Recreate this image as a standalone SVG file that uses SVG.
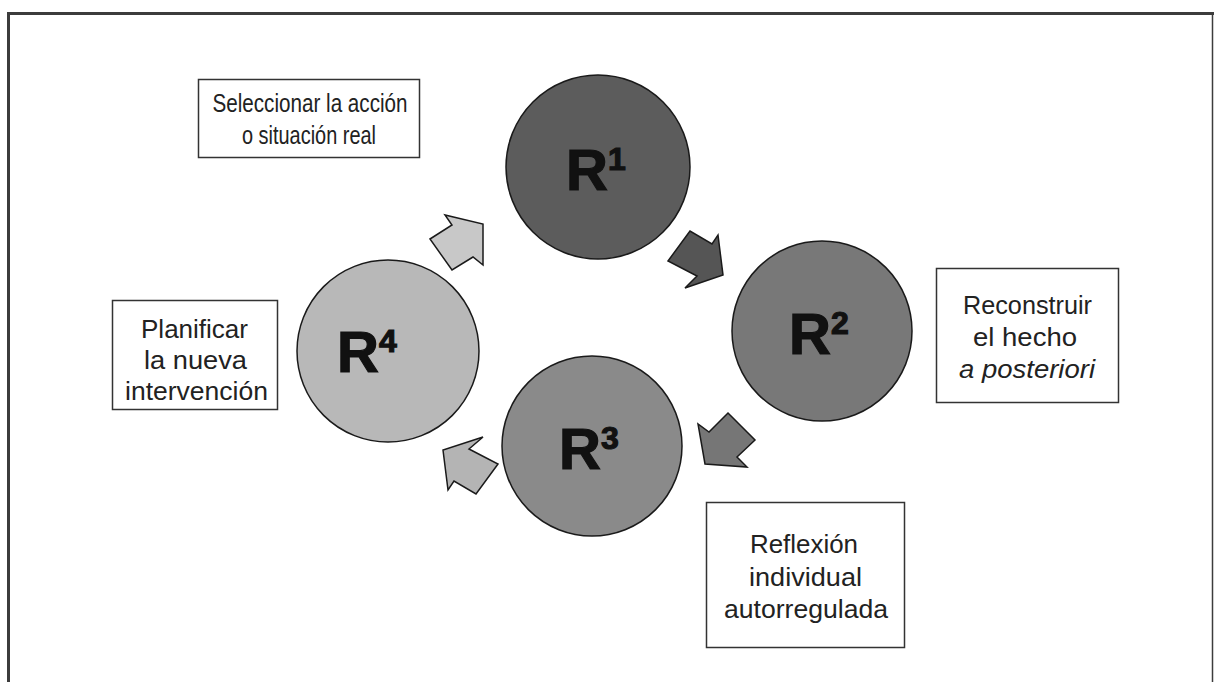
<svg xmlns="http://www.w3.org/2000/svg" width="1214" height="682" viewBox="0 0 1214 682">
  <style>
    .box { fill: #ffffff; stroke: #333333; stroke-width: 1.5; }
    .lbl { font-family: "Liberation Sans", "DejaVu Sans", sans-serif; font-size: 25px; fill: #222222; text-anchor: middle; }
    .circ { stroke: #1a1a1a; stroke-width: 1.5; }
    .rtxt { font-family: "Liberation Sans", "DejaVu Sans", sans-serif; font-weight: bold; font-size: 58px; fill: #111111; stroke: #111111; stroke-width: 1.2; }
    .sup { font-size: 32px; }
    .arr { stroke: #1a1a1a; stroke-width: 1.5; stroke-linejoin: miter; }
  </style>
  <rect width="1214" height="682" fill="#ffffff"/>
  <!-- page frame -->
  <g id="frame" fill="none" stroke="#3c3c3c">
    <path d="M8.5 682 V13.5 H1214" stroke-width="3"/>
    <path d="M1212.5 13 V682" stroke-width="1.5"/>
  </g>

  <!-- cycle arrows -->
  <g id="connectors">
    <polygon class="arr" fill="#c8c8c8" points="430,239 452,225 445,215 483,224 483,265 473,257 452,270"/>
    <polygon class="arr" fill="#555555" points="668,261 690,231 712,244 718,235 723,275 685,288 697,276"/>
    <polygon class="arr" fill="#767676" points="728,413 755,440 737,457 747,467 705,464 698,424 709,432"/>
    <polygon class="arr" fill="#b4b4b4" points="498,464 476,494 454,481 448,490 443,450 483,437 469,449"/>
  </g>

  <!-- stage R1 -->
  <g id="r1">
    <circle class="circ" cx="598" cy="167" r="92" fill="#5c5c5c"/>
    <text class="rtxt" x="566" y="190">R<tspan class="sup" dy="-20">1</tspan></text>
  </g>
  <!-- stage R2 -->
  <g id="r2">
    <circle class="circ" cx="822" cy="331" r="90" fill="#787878"/>
    <text class="rtxt" x="789" y="354">R<tspan class="sup" dy="-20">2</tspan></text>
  </g>
  <!-- stage R3 -->
  <g id="r3">
    <circle class="circ" cx="592" cy="446" r="90" fill="#8a8a8a"/>
    <text class="rtxt" x="559" y="469">R<tspan class="sup" dy="-20">3</tspan></text>
  </g>
  <!-- stage R4 -->
  <g id="r4">
    <circle class="circ" cx="388" cy="351" r="91" fill="#b8b8b8"/>
    <text class="rtxt" x="337" y="372">R<tspan class="sup" dy="-20">4</tspan></text>
  </g>

  <!-- caption boxes -->
  <g id="box-r1">
    <rect class="box" x="198.5" y="79.5" width="221" height="78"/>
    <text class="lbl" x="310" y="112" textLength="195" lengthAdjust="spacingAndGlyphs">Seleccionar la acción</text>
    <text class="lbl" x="309" y="144" textLength="134" lengthAdjust="spacingAndGlyphs">o situación real</text>
  </g>
  <g id="box-r2">
    <rect class="box" x="936.5" y="268.5" width="182" height="134"/>
    <text class="lbl" x="1027.5" y="314" textLength="129" lengthAdjust="spacingAndGlyphs">Reconstruir</text>
    <text class="lbl" x="1025" y="346" textLength="104" lengthAdjust="spacingAndGlyphs">el hecho</text>
    <text class="lbl" x="1027" y="378" font-style="italic" textLength="136" lengthAdjust="spacingAndGlyphs">a posteriori</text>
  </g>
  <g id="box-r3">
    <rect class="box" x="706.5" y="502.5" width="198" height="145"/>
    <text class="lbl" x="804" y="553" textLength="108" lengthAdjust="spacingAndGlyphs">Reflexión</text>
    <text class="lbl" x="805.5" y="586" textLength="113" lengthAdjust="spacingAndGlyphs">individual</text>
    <text class="lbl" x="806" y="618" textLength="164" lengthAdjust="spacingAndGlyphs">autorregulada</text>
  </g>
  <g id="box-r4">
    <rect class="box" x="112.5" y="300.5" width="165" height="109"/>
    <text class="lbl" x="194.5" y="338" textLength="107" lengthAdjust="spacingAndGlyphs">Planificar</text>
    <text class="lbl" x="195.5" y="369" textLength="103" lengthAdjust="spacingAndGlyphs">la nueva</text>
    <text class="lbl" x="196.5" y="400" textLength="143" lengthAdjust="spacingAndGlyphs">intervención</text>
  </g>
</svg>
